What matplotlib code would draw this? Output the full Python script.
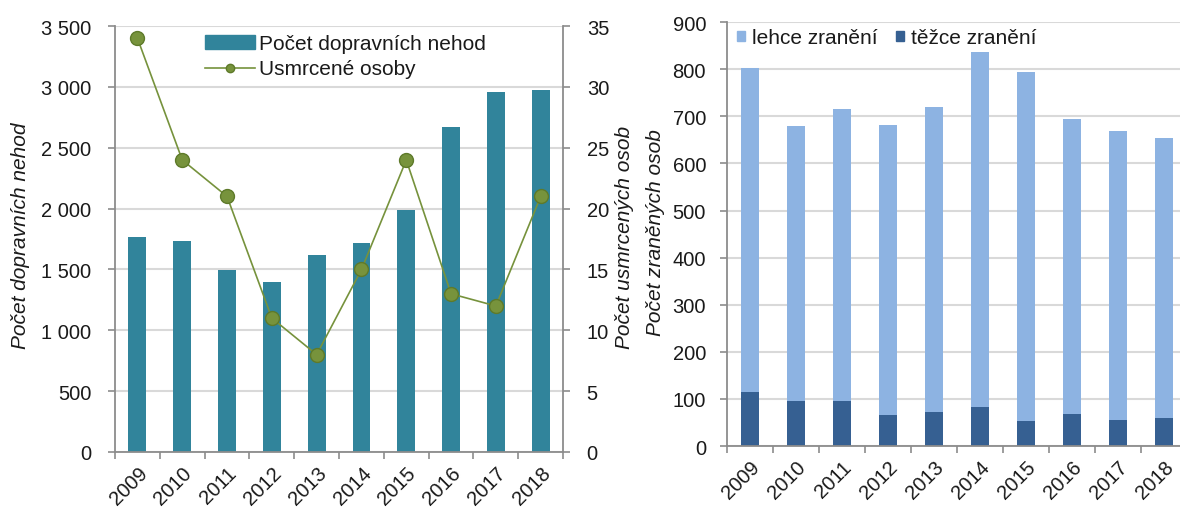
import matplotlib.pyplot as plt
from matplotlib.patches import Patch
from matplotlib.lines import Line2D
import numpy as np

plt.rcParams['font.family'] = ['Liberation Sans', 'DejaVu Sans']

# Data
years = ['2009', '2010', '2011', '2012', '2013', '2014', '2015', '2016', '2017', '2018']
nehody = [1765, 1732, 1492, 1393, 1622, 1715, 1992, 2670, 2958, 2977]
usmrceni = [34, 24, 21, 11, 8, 15, 24, 13, 12, 21]
lehce = [687, 584, 620, 617, 647, 754, 742, 626, 614, 594]
tezce = [115, 95, 95, 65, 73, 82, 53, 68, 55, 60]

teal = '#31849B'
olive = '#76923C'
light_blue = '#8DB3E2'
dark_blue = '#366092'
grid_c = '#D9D9D9'
spine_c = '#8C8C8C'
txt = '#1A1A1A'
fs = 14.5

fig = plt.figure(figsize=(11.8, 5.1), dpi=100)
x = np.arange(len(years))


def style_axes(ax, pad):
    ax.set_xlim(-0.5, len(years) - 0.5)
    ax.set_xticks(x)
    ax.set_xticklabels(years, rotation=45, ha='right', rotation_mode='anchor',
                       fontsize=fs, color=txt)
    ax.set_xticks(np.arange(-0.5, len(years)), minor=True)
    ax.tick_params(axis='x', which='major', length=0, pad=8)
    ax.tick_params(axis='x', which='minor', length=5, color=spine_c, width=1.2)
    ax.tick_params(axis='y', length=5, color=spine_c, width=1.2, labelsize=fs,
                   labelcolor=txt, pad=pad)
    ax.grid(axis='y', color=grid_c, linewidth=1.5)
    ax.set_axisbelow(True)
    for s in ['top', 'right']:
        ax.spines[s].set_visible(False)
    for s in ['left', 'bottom']:
        ax.spines[s].set_color(spine_c)
        ax.spines[s].set_linewidth(1.3)


# Left chart: accidents + fatalities
ax1 = fig.add_axes([0.0975, 0.1118, 0.3797, 0.835])
ax1.bar(x, nehody, width=0.4, color=teal, zorder=2)
ax1.set_ylim(0, 3500)
ax1.set_yticks(np.arange(0, 3501, 500))
ax1.set_yticklabels(['0' if v == 0 else f'{v:,}'.replace(',', ' ') for v in range(0, 3501, 500)])
style_axes(ax1, 12)
ax1.set_ylabel('Počet dopravních nehod', fontsize=15, style='italic', color=txt)
ax1.yaxis.set_label_coords(-0.19, 0.51)

ax2 = ax1.twinx()
ax2.plot(x, usmrceni, color=olive, linewidth=1.2, marker='o', markersize=10,
         markerfacecolor='#77933C', markeredgecolor='#5E7A2A', markeredgewidth=1, zorder=3)
ax2.set_ylim(0, 35)
ax2.set_yticks(np.arange(0, 36, 5))
ax2.tick_params(axis='y', length=5, color=spine_c, width=1.2, labelsize=fs,
                labelcolor=txt, pad=12)
for s in ['top', 'left', 'bottom']:
    ax2.spines[s].set_visible(False)
ax2.spines['right'].set_color(spine_c)
ax2.spines['right'].set_linewidth(1.3)
ax2.set_ylabel('Počet usmrcených osob', fontsize=15, style='italic', color=txt)
ax2.yaxis.set_label_coords(1.115, 0.505)

handles = [Patch(color=teal),
           Line2D([0], [0], color=olive, linewidth=1.2, marker='o', markersize=6,
                  markerfacecolor='#77933C', markeredgecolor='#5E7A2A')]
ax1.legend(handles, ['Počet dopravních nehod', 'Usmrcené osoby'], loc='upper left',
           bbox_to_anchor=(0.16, 1.025), frameon=False, fontsize=15, handlelength=2.4,
           handleheight=0.6, handletextpad=0.15, labelspacing=0.3, labelcolor=txt)

# Right chart: injured
ax3 = fig.add_axes([0.616, 0.1235, 0.39, 0.831])
ax3.bar(x, tezce, width=0.38, color=dark_blue, zorder=2)
ax3.bar(x, lehce, width=0.38, bottom=tezce, color=light_blue, zorder=2)
ax3.set_ylim(0, 900)
ax3.set_yticks(np.arange(0, 901, 100))
style_axes(ax3, 10)
ax3.set_ylabel('Počet zraněných osob', fontsize=15, style='italic', color=txt)
ax3.yaxis.set_label_coords(-0.135, 0.506)
ax3.legend([Patch(color=light_blue), Patch(color=dark_blue)],
           ['lehce zranění', 'těžce zranění'], loc='upper left', ncol=2,
           bbox_to_anchor=(-0.005, 1.015), frameon=False, fontsize=15,
           handlelength=0.4, handleheight=0.4, handletextpad=0.3, columnspacing=0.9,
           borderaxespad=0.2, labelcolor=txt)

plt.savefig('out.png', dpi=100)
